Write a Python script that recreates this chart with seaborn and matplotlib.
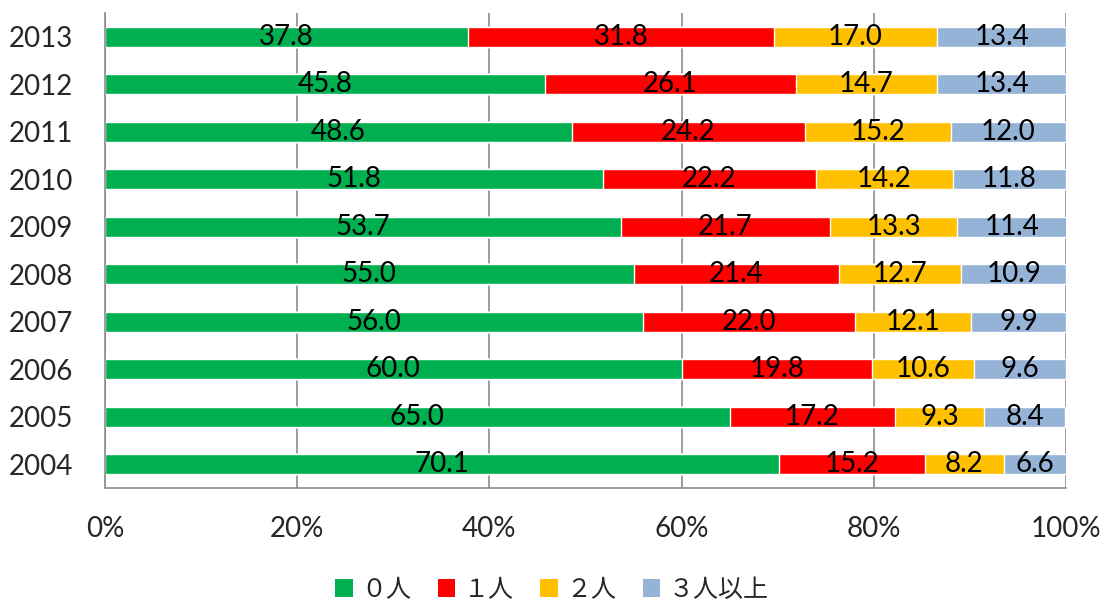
import numpy as np
import pandas as pd
import matplotlib
matplotlib.use('Agg')
import matplotlib.pyplot as plt
from matplotlib.patches import Patch
import seaborn as sns

# データ（上から 2013 → 2004）
years = ['2013', '2012', '2011', '2010', '2009', '2008', '2007', '2006', '2005', '2004']
zero = [37.8, 45.8, 48.6, 51.8, 53.7, 55.0, 56.0, 60.0, 65.0, 70.1]
one = [31.8, 26.1, 24.2, 22.2, 21.7, 21.4, 22.0, 19.8, 17.2, 15.2]
two = [17.0, 14.7, 15.2, 14.2, 13.3, 12.7, 12.1, 10.6, 9.3, 8.2]
three = [13.4, 13.4, 12.0, 11.8, 11.4, 10.9, 9.9, 9.6, 8.4, 6.6]
series_names = ['０人', '１人', '２人', '３人以上']
colors = ['#00B050', '#FF0000', '#FFC000', '#95B3D7']

df = pd.DataFrame({'year': years, '0': zero, '1': one, '2': two, '3': three})
vals = df[['0', '1', '2', '3']].values
cum = np.cumsum(vals, axis=1)

sns.set_style('white')
plt.rcParams['font.family'] = ['Lato', 'DejaVu Sans']

fig = plt.figure(figsize=(11.04, 6.05), dpi=100)
ax = fig.add_axes([0.0951, 0.1934, 0.8705, 0.7851])

grid_c = '#8C8C8C'
for x in range(0, 101, 20):
    ax.axvline(x, color=grid_c, lw=1.2, zorder=0)

# 累積値を後ろから重ねて積み上げ棒にする
for i in range(3, -1, -1):
    d = pd.DataFrame({'year': years, 'v': cum[:, i]})
    sns.barplot(data=d, x='v', y='year', orient='h', color=colors[i],
                width=0.42, saturation=1, ax=ax, zorder=2)

for r in range(len(years)):
    for i in range(4):
        left = cum[r, i] - vals[r, i]
        ax.text(left + vals[r, i] / 2, r, f'{vals[r, i]:.1f}',
                ha='center', va='center', fontsize=20, color='black', zorder=3)

ax.set_xlim(0, 100)
ax.set_ylim(len(years) - 0.5, -0.5)
ax.set_xticks(range(0, 101, 20))
ax.set_xticklabels([f'{x}%' for x in range(0, 101, 20)], fontsize=20)
ax.set_yticks(range(len(years)))
ax.set_yticklabels(years, fontsize=20)
ax.set_yticks(np.arange(-0.5, len(years)), minor=True)
ax.tick_params(axis='y', which='major', length=0, pad=23)
ax.tick_params(axis='y', which='minor', length=7, color=grid_c, width=1.2, direction='out')
ax.tick_params(axis='x', length=6.5, color=grid_c, width=1.2, direction='out', pad=14)
ax.set_xlabel('')
ax.set_ylabel('')

for s in ['top', 'right']:
    ax.spines[s].set_visible(False)
ax.spines['left'].set_color(grid_c)
ax.spines['left'].set_linewidth(1.2)
ax.spines['bottom'].set_color(grid_c)
ax.spines['bottom'].set_linewidth(1.2)

handles = [Patch(facecolor=c, edgecolor='none') for c in colors]
fig.legend(handles, series_names, loc='center', bbox_to_anchor=(0.5, 0.025), ncol=4,
           frameon=False, prop={'family': ['Noto Sans CJK JP', 'DejaVu Sans'], 'size': 18},
           handlelength=0.7, handleheight=0.7, handletextpad=0.35, columnspacing=1.05)

fig.savefig('out.png', dpi=100)
